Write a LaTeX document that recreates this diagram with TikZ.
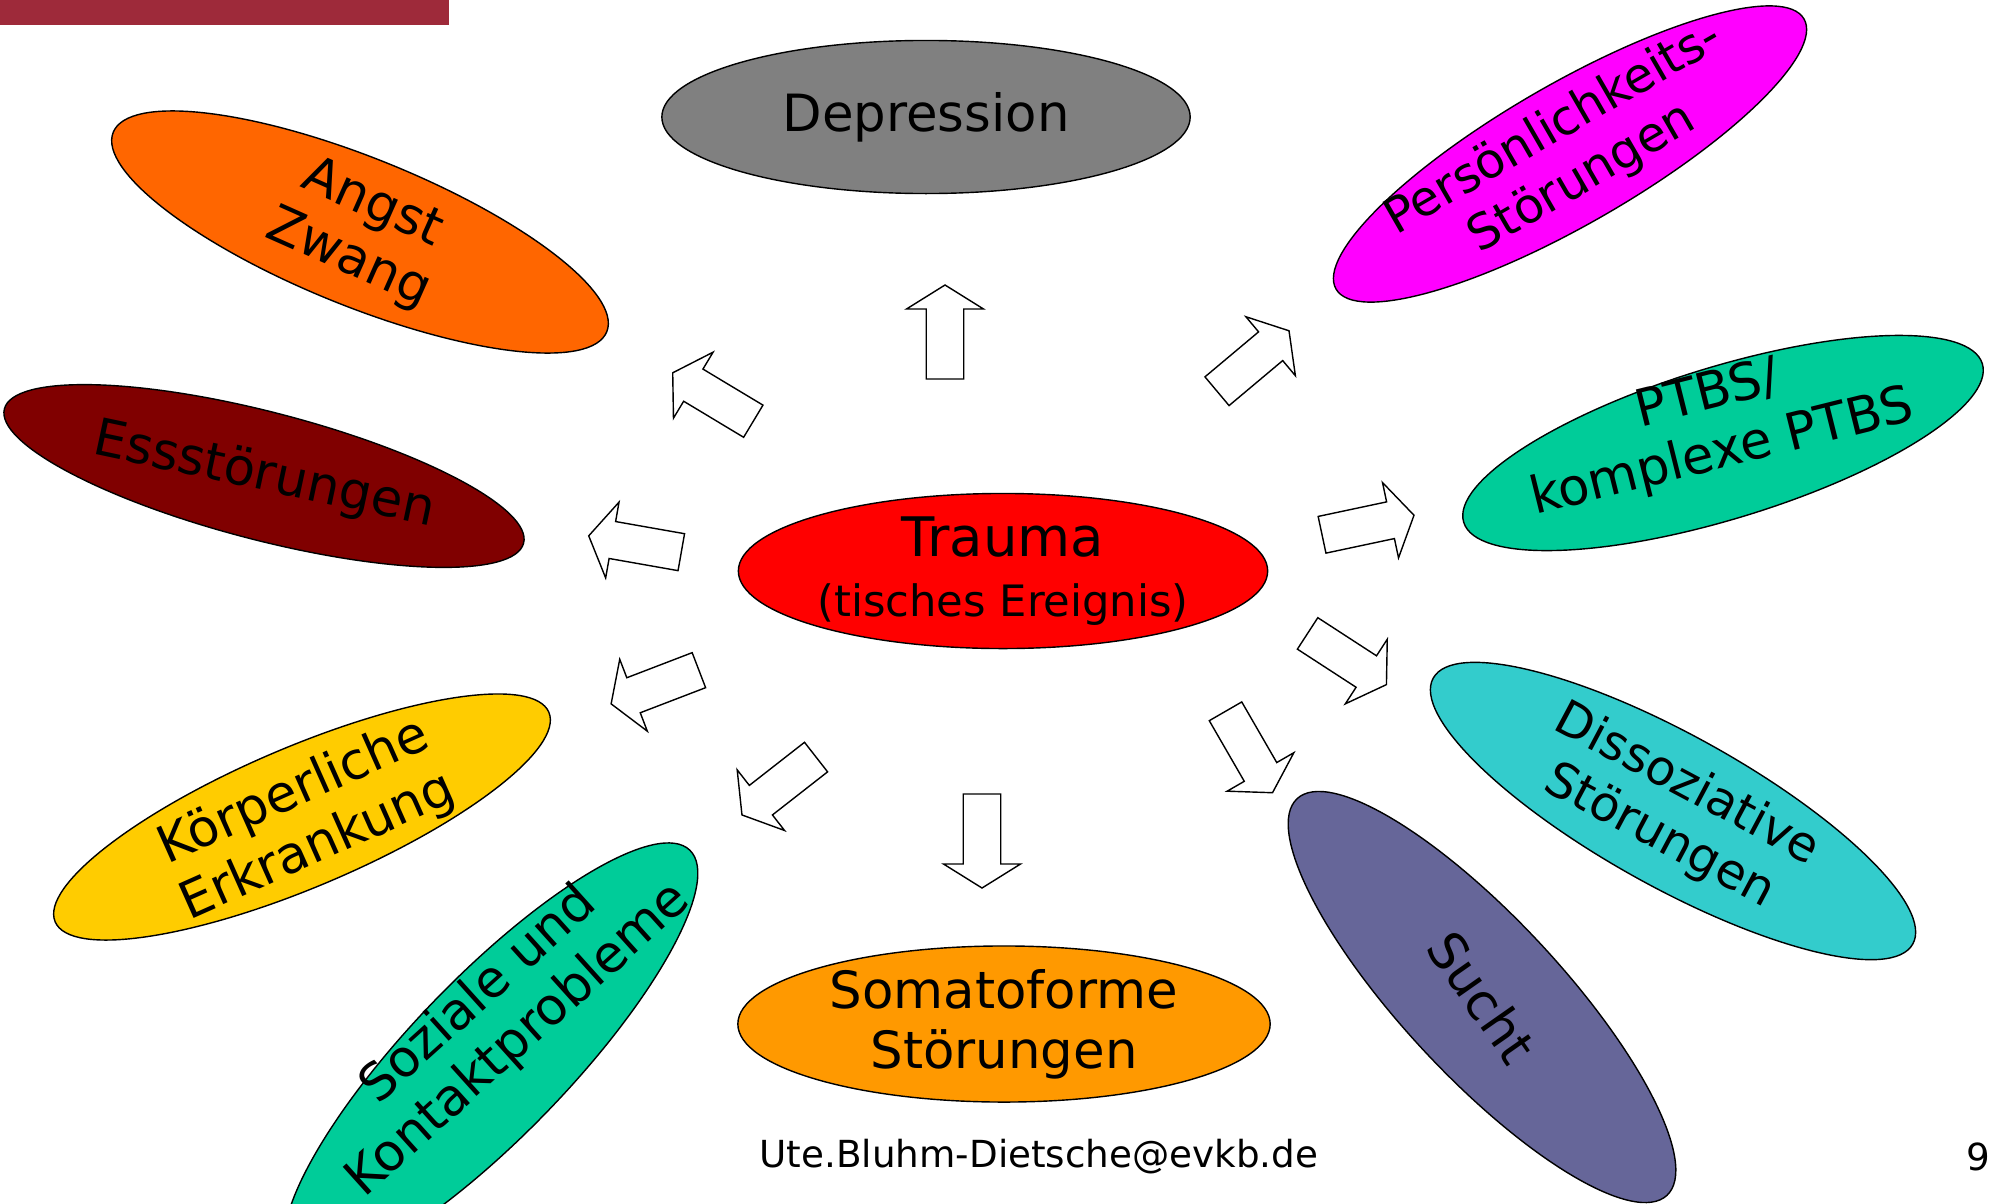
\documentclass[tikz,border=0pt]{standalone}
\usepackage{fontspec}
\setmainfont{DejaVu Sans}
\usepackage{tikz}
\usetikzlibrary{shapes.geometric}
\definecolor{barred}{RGB}{158,42,58}
\definecolor{redell}{RGB}{255,0,0}
\definecolor{grayell}{RGB}{128,128,128}
\definecolor{orangeell}{RGB}{255,102,0}
\definecolor{maroonell}{RGB}{128,0,0}
\definecolor{yellowell}{RGB}{255,204,0}
\definecolor{greenell}{RGB}{0,204,153}
\definecolor{amberell}{RGB}{255,153,0}
\definecolor{magentaell}{RGB}{255,0,255}
\definecolor{tealell}{RGB}{51,204,204}
\definecolor{violetell}{RGB}{102,102,153}
\tikzset{
    ell/.style={ellipse,draw,inner sep=0pt},
    lbl/.style={align=center,inner sep=0pt,font=\fontsize{14.6}{17}\selectfont},
    fatarrow/.pic={
        \draw[fill=white,line join=miter] (-47,-18.75) -- (23,-18.75) -- (23,-38.5) -- (47,0)
            -- (23,38.5) -- (23,18.75) -- (-47,18.75) -- cycle;
    }
}

\begin{document}
\begin{tikzpicture}[x=0.01cm,y=-0.01cm]
    \useasboundingbox (0,0) rectangle (1995,1203);
    \fill[barred] (0,0) rectangle (449,25);

    \node[ell,fill=redell,minimum width=5.29cm,minimum height=1.55cm] (trauma) at (1003,571) {};
    \node[lbl] (trauma-t) at (trauma) {\fontsize{15.5}{23}\selectfont Trauma\\\fontsize{12.3}{14}\selectfont(tisches Ereignis)};

    \node[ell,fill=grayell,minimum width=5.28cm,minimum height=1.53cm] (dep) at (926,117) {};
    \node[lbl] (dep-t) at (dep) {Depression};

    \node[ell,fill=orangeell,rotate=-22,minimum width=5.32cm,minimum height=1.48cm] (angst) at (360,232) {};
    \node[lbl,rotate=-24] (angst-t) at (angst) {Angst\\Zwang};

    \node[ell,fill=maroonell,rotate=-14.5,minimum width=5.36cm,minimum height=1.28cm] (ess) at (264,476) {};
    \node[lbl,rotate=-12] (ess-t) at (ess) {Essstörungen};

    \node[ell,fill=yellowell,rotate=23,minimum width=5.36cm,minimum height=1.40cm] (koerp) at (302,817) {};
    \node[lbl,rotate=24] (koerp-t) at (306,820) {Körperliche\\Erkrankung};

    \node[ell,fill=greenell,rotate=46,minimum width=5.72cm,minimum height=1.58cm] (sozial) at (491,1056) {};
    \node[lbl,rotate=42] (sozial-t) at (499,1018) {Soziale und\\Kontaktprobleme};

    \node[ell,fill=amberell,minimum width=5.32cm,minimum height=1.56cm] (soma) at (1004,1024) {};
    \node[lbl] (soma-t) at (soma) {Somatoforme\\Störungen};

    \node[ell,fill=magentaell,rotate=30,minimum width=5.40cm,minimum height=1.40cm] (pers) at (1570,154) {};
    \node[lbl,rotate=30,font=\fontsize{13.8}{16.5}\selectfont] (pers-t) at (1568,154) {Persönlichkeits-\\Störungen};

    \node[ell,fill=greenell,rotate=17,minimum width=5.42cm,minimum height=1.52cm] (ptbs) at (1723,443) {};
    \node[lbl,rotate=14] (ptbs-t) at (1715,425) {PTBS/\\komplexe PTBS};

    \node[ell,fill=tealell,rotate=-29,minimum width=5.48cm,minimum height=1.52cm] (diss) at (1673,811) {};
    \node[lbl,rotate=-28,font=\fontsize{13.8}{16.5}\selectfont] (diss-t) at (diss) {Dissoziative\\Störungen};

    \node[ell,fill=violetell,rotate=-47,minimum width=5.42cm,minimum height=1.58cm] (sucht) at (1482,997) {};
    \node[lbl,rotate=-55] (sucht-t) at (sucht) {Sucht};

    % block arrows around the trauma
    \pic[rotate=90] at (945,332) {fatarrow};
    \pic[rotate=149] at (713,397) {fatarrow};
    \pic[rotate=170] at (635,544) {fatarrow};
    \pic[rotate=201] at (655,687) {fatarrow};
    \pic[rotate=218] at (779,786) {fatarrow};
    \pic[rotate=270] at (982,841) {fatarrow};
    \pic[rotate=300] at (1249,752) {fatarrow};
    \pic[rotate=327] at (1347,659) {fatarrow};
    \pic[rotate=12] at (1368,525) {fatarrow};
    \pic[rotate=40] at (1253,361) {fatarrow};

    \node[inner sep=0pt,font=\fontsize{10.6}{12}\selectfont] (mail) at (1039,1157) {Ute.Bluhm-Dietsche@evkb.de};
    \node[inner sep=0pt,font=\fontsize{10.6}{12}\selectfont] (page) at (1978,1157) {9};
\end{tikzpicture}
\end{document}
